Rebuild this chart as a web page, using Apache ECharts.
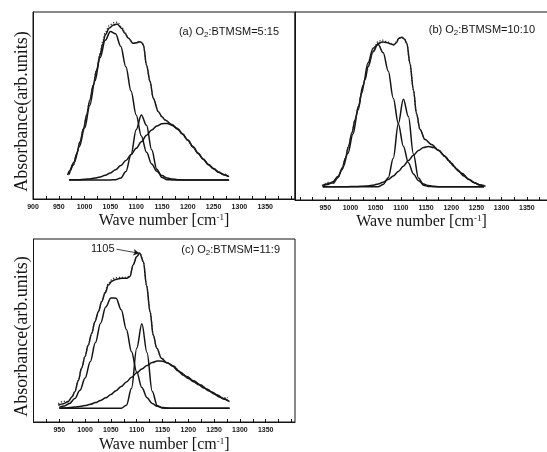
<!DOCTYPE html>
<html>
<head>
<meta charset="utf-8">
<script src="https://cdn.jsdelivr.net/npm/echarts@6/dist/echarts.min.js"></script>
<style>
  html, body { margin: 0; padding: 0; background: #fff; }
  #chart { width: 547px; height: 452px; }
</style>
</head>
<body>
<div id="chart"></div>
<script>
// ---------- Panel (a): O2:BTMSM = 5:15 ----------
const waveA = [970, 980, 990, 1000, 1010, 1020, 1030, 1040, 1050, 1060, 1070, 1080, 1090, 1100, 1110, 1120,
  1130, 1140, 1150, 1160, 1170, 1180, 1190, 1200, 1210, 1220, 1230, 1240, 1250, 1260, 1270, 1280];
const peak1A = [0.035, 0.115, 0.215, 0.333, 0.477, 0.635, 0.783, 0.896, 0.952, 0.938, 0.857, 0.726, 0.571, 0.417,
  0.282, 0.177, 0.103, 0.056, 0.028, 0.013, 0.006, 0.002, 0, 0, 0, 0, 0, 0, 0, 0, 0, 0];
const peak2A = [0, 0, 0, 0, 0, 0, 0, 0, 0, 0.002, 0.012, 0.054, 0.163, 0.322, 0.416, 0.351, 0.193, 0.069, 0.016,
  0.002, 0, 0, 0, 0, 0, 0, 0, 0, 0, 0, 0, 0];
const peak3A = [0.001, 0.001, 0.002, 0.004, 0.007, 0.012, 0.019, 0.030, 0.045, 0.066, 0.092, 0.125, 0.162, 0.203,
  0.245, 0.286, 0.320, 0.346, 0.361, 0.362, 0.350, 0.326, 0.293, 0.254, 0.212, 0.170, 0.132, 0.098, 0.071, 0.049,
  0.033, 0.021];
const fitWaveA = [967, 972, 978, 985, 991, 998, 1004, 1010, 1017, 1023, 1030, 1035, 1040, 1048, 1056, 1063, 1072,
  1078, 1085, 1094, 1101, 1107, 1111, 1114, 1120, 1127, 1133, 1143, 1150, 1156, 1169, 1180, 1190, 1200, 1210, 1220,
  1230, 1240, 1250, 1260, 1270, 1278];
const fitA = [0.032, 0.06, 0.096, 0.17, 0.245, 0.33, 0.417, 0.51, 0.609, 0.70, 0.801, 0.87, 0.929, 0.975, 0.994, 1.0,
  0.972, 0.94, 0.908, 0.876, 0.88, 0.886, 0.88, 0.865, 0.737, 0.63, 0.524, 0.438, 0.405, 0.385, 0.355, 0.33, 0.295,
  0.256, 0.214, 0.172, 0.134, 0.10, 0.073, 0.05, 0.034, 0.024];
const measuredA = [0.032, 0.06, 0.096, 0.17, 0.245, 0.33, 0.417, 0.51, 0.612, 0.705, 0.81, 0.885, 0.945, 0.99, 1.008,
  1.012, 0.982, 0.945, 0.91, 0.876, 0.882, 0.888, 0.882, 0.865, 0.737, 0.63, 0.524, 0.438, 0.405, 0.385, 0.355, 0.33,
  0.295, 0.256, 0.214, 0.172, 0.134, 0.10, 0.073, 0.05, 0.036, 0.04];
const ratioA = '5:15';

// ---------- Panel (b): O2:BTMSM = 10:10 ----------
const waveB = [945, 955, 965, 975, 985, 995, 1005, 1015, 1025, 1035, 1045, 1055, 1065, 1075, 1085, 1095, 1105, 1115,
  1125, 1135, 1145, 1155, 1165, 1175, 1185, 1195, 1205, 1215, 1225, 1235, 1245, 1255, 1265];
const peak1B = [0.006, 0.015, 0.033, 0.068, 0.129, 0.222, 0.351, 0.509, 0.677, 0.826, 0.924, 0.948, 0.893, 0.771,
  0.59, 0.42, 0.27, 0.16, 0.085, 0.04, 0.017, 0.007, 0.002, 0, 0, 0, 0, 0, 0, 0, 0, 0, 0];
const peak2B = [0, 0, 0, 0, 0, 0, 0, 0, 0, 0, 0, 0, 0.015, 0.06, 0.19, 0.42, 0.583, 0.468, 0.217, 0.058, 0.009, 0.001,
  0, 0, 0, 0, 0, 0, 0, 0, 0, 0, 0];
const peak3B = [0, 0, 0, 0, 0, 0, 0.001, 0.001, 0.003, 0.005, 0.010, 0.018, 0.030, 0.047, 0.071, 0.101, 0.136, 0.174,
  0.210, 0.241, 0.261, 0.268, 0.261, 0.241, 0.210, 0.174, 0.136, 0.101, 0.071, 0.047, 0.027, 0.012, 0.004];
const fitWaveB = [944, 950, 958, 966, 975, 983, 990, 996, 1003, 1009, 1016, 1022, 1029, 1035, 1045, 1055, 1063, 1072,
  1080, 1086, 1091, 1096, 1102, 1107, 1112, 1118, 1125, 1131, 1138, 1148, 1161, 1175, 1188, 1200, 1210, 1221, 1235,
  1247, 1258, 1268];
const fitB = [0.005, 0.015, 0.022, 0.025, 0.06, 0.111, 0.19, 0.267, 0.36, 0.445, 0.535, 0.623, 0.715, 0.8, 0.9, 0.955,
  0.965, 0.962, 0.952, 0.945, 0.96, 0.99, 0.996, 0.985, 0.956, 0.823, 0.645, 0.489, 0.382, 0.315, 0.281, 0.243, 0.2,
  0.158, 0.12, 0.089, 0.05, 0.025, 0.01, 0.003];
const measuredB = [0.008, 0.022, 0.03, 0.022, 0.06, 0.111, 0.19, 0.267, 0.36, 0.445, 0.535, 0.623, 0.715, 0.805, 0.91,
  0.968, 0.978, 0.968, 0.955, 0.95, 0.965, 0.99, 0.998, 0.985, 0.956, 0.823, 0.645, 0.489, 0.382, 0.315, 0.281, 0.243,
  0.2, 0.158, 0.12, 0.089, 0.05, 0.025, 0.012, 0.006];
const ratioB = '10:10';

// ---------- Panel (c): O2:BTMSM = 11:9 ----------
const waveC = [950, 960, 970, 980, 990, 1000, 1010, 1020, 1030, 1040, 1050, 1060, 1070, 1080, 1090, 1100, 1110, 1120,
  1130, 1140, 1150, 1160, 1170, 1180, 1190, 1200, 1210, 1220, 1230, 1240, 1250, 1260, 1270, 1280];
const peak1C = [0.006, 0.015, 0.032, 0.063, 0.116, 0.195, 0.300, 0.424, 0.549, 0.653, 0.712, 0.710, 0.635, 0.509,
  0.365, 0.234, 0.134, 0.069, 0.032, 0.013, 0.005, 0.002, 0, 0, 0, 0, 0, 0, 0, 0, 0, 0, 0, 0];
const peak2C = [0, 0, 0, 0, 0, 0, 0, 0, 0, 0, 0, 0, 0.001, 0.020, 0.129, 0.387, 0.545, 0.359, 0.111, 0.016, 0.002,
  0, 0, 0, 0, 0, 0, 0, 0, 0, 0, 0, 0, 0];
const peak3C = [0.002, 0.003, 0.005, 0.008, 0.012, 0.018, 0.026, 0.037, 0.051, 0.068, 0.089, 0.114, 0.141, 0.170,
  0.200, 0.229, 0.254, 0.276, 0.295, 0.306, 0.304, 0.293, 0.272, 0.242, 0.214, 0.193, 0.172, 0.152, 0.132, 0.112,
  0.093, 0.074, 0.058, 0.044];
const fitWaveC = [948, 958, 967, 975, 980, 987, 993, 1000, 1006, 1013, 1019, 1026, 1032, 1039, 1045, 1052, 1058, 1065,
  1071, 1081, 1087, 1093, 1100, 1106, 1113, 1119, 1126, 1132, 1139, 1148, 1158, 1170, 1184, 1197, 1210, 1224, 1236,
  1246, 1255, 1268, 1277];
const fitC = [0.02, 0.03, 0.043, 0.075, 0.107, 0.18, 0.258, 0.335, 0.408, 0.485, 0.559, 0.625, 0.688, 0.745, 0.795,
  0.82, 0.83, 0.835, 0.839, 0.839, 0.85, 0.925, 0.978, 1.0, 0.946, 0.795, 0.623, 0.473, 0.387, 0.323, 0.295, 0.275,
  0.235, 0.205, 0.178, 0.15, 0.125, 0.105, 0.088, 0.063, 0.048];
const measuredC = [0.03, 0.045, 0.045, 0.075, 0.107, 0.18, 0.258, 0.335, 0.408, 0.485, 0.559, 0.625, 0.69, 0.75, 0.805,
  0.83, 0.842, 0.845, 0.845, 0.845, 0.855, 0.925, 0.98, 1.003, 0.946, 0.795, 0.623, 0.473, 0.387, 0.323, 0.295, 0.275,
  0.235, 0.205, 0.178, 0.15, 0.125, 0.105, 0.088, 0.068, 0.07];
const ratioC = '11:9';
const peakMarkWave = 1105;   // annotated Si-O-Si band position in (c)
const peakMarkValue = 1.0;
const arrowTail = [1061, 1.026];

// ---------- Axis ticks and labels ----------
const ticksA = [900, 925, 950, 975, 1000, 1025, 1050, 1075, 1100, 1125, 1150, 1175, 1200, 1225, 1250, 1275, 1300,
  1325, 1350, 1375, 1400];
const labelsA = [900, 950, 1000, 1050, 1100, 1150, 1200, 1250, 1300, 1350];
const ticksB = [900, 925, 950, 975, 1000, 1025, 1050, 1075, 1100, 1125, 1150, 1175, 1200, 1225, 1250, 1275, 1300,
  1325, 1350, 1375];
const labelsB = [950, 1000, 1050, 1100, 1150, 1200, 1250, 1300, 1350];
const ticksC = [925, 950, 975, 1000, 1025, 1050, 1075, 1100, 1125, 1150, 1175, 1200, 1225, 1250, 1275, 1300, 1325,
  1350, 1375, 1400];
const labelsC = [950, 1000, 1050, 1100, 1150, 1200, 1250, 1300, 1350];

const INK = '#141414';
const SERIF = '"Liberation Serif", "DejaVu Serif", serif';
const SANS = '"Liberation Sans", Arial, sans-serif';

function pairs(xs, ys) { return xs.map((x, i) => [x, ys[i]]); }

function xAxisFor(gridIndex, min, max, ticks, labels, gap) {
  return {
    type: 'value', gridIndex, min, max,
    axisLine: { show: true, onZero: false, lineStyle: { color: INK, width: 1 } },
    axisTick: { show: true, inside: true, length: 3, customValues: ticks, lineStyle: { color: INK, width: 1 } },
    axisLabel: {
      customValues: labels, formatter: v => String(v),
      fontSize: 7, fontWeight: 'bold', fontFamily: SANS, color: INK, margin: 5
    },
    splitLine: { show: false },
    name: '{t|Wave number [cm}{s|-1}{t|]}',
    nameLocation: 'middle', nameGap: gap,
    nameTextStyle: {
      rich: {
        t: { fontFamily: SERIF, fontSize: 16, color: INK },
        s: { fontFamily: SERIF, fontSize: 9, color: INK, verticalAlign: 'top' }
      }
    }
  };
}

function yAxisFor(gridIndex, min, max, withName) {
  return {
    type: 'value', gridIndex, min, max,
    axisLine: { show: true, onZero: false, lineStyle: { color: INK, width: 1 } },
    axisTick: { show: false }, axisLabel: { show: false }, splitLine: { show: false },
    name: withName ? 'Absorbance(arb.units)' : '',
    nameLocation: 'middle', nameRotate: 90, nameGap: 2,
    nameTextStyle: { fontFamily: SERIF, fontSize: 18, color: INK, padding: [0, 12, 0, 0] }
  };
}

function curve(xs, ys, gi, dotted, extra) {
  return Object.assign({
    type: 'line', xAxisIndex: gi, yAxisIndex: gi,
    data: pairs(xs, ys), showSymbol: false, smooth: 0.35, smoothMonotone: 'x',
    silent: true, animation: false, z: dotted ? 3 : 2,
    lineStyle: dotted
      ? { color: '#2a2a2a', width: 1.3, type: [1.2, 1.8] }
      : { color: INK, width: 1.5 }
  }, extra || {});
}

function panelLabel(tag, ratio) {
  return '{t|(' + tag + ') O}{b|2}{t|:BTMSM=' + ratio + '}';
}
const labelRich = {
  t: { fontFamily: SANS, fontSize: 11, fontWeight: 'normal', color: INK, lineHeight: 15 },
  b: { fontFamily: SANS, fontSize: 8, fontWeight: 'normal', color: INK, verticalAlign: 'bottom', lineHeight: 15 }
};

const gridBase = { show: true, borderColor: INK, borderWidth: 1, backgroundColor: 'transparent', outerBoundsMode: 'none', containLabel: false };

const option = {
  backgroundColor: '#ffffff',
  animation: false,
  title: [
    { text: panelLabel('a', ratioA), right: 263, top: 19, textStyle: { fontWeight: 'normal', rich: labelRich } },
    { text: panelLabel('b', ratioB), right: 7, top: 17, textStyle: { fontWeight: 'normal', rich: labelRich } },
    { text: panelLabel('c', ratioC), right: 262, top: 237, textStyle: { fontWeight: 'normal', rich: labelRich } }
  ],
  grid: [
    Object.assign({ left: 33, top: 12, width: 262, height: 187 }, gridBase),
    Object.assign({ left: 295, top: 12, width: 253, height: 188 }, gridBase),
    Object.assign({ left: 33.5, top: 239, width: 261.5, height: 183 }, gridBase)
  ],
  xAxis: [
    xAxisFor(0, 900, 1407.8, ticksA, labelsA, 14),
    xAxisFor(1, 890, 1392, ticksB, labelsB, 14),
    xAxisFor(2, 900, 1406.8, ticksC, labelsC, 15)
  ],
  yAxis: [
    yAxisFor(0, -0.122, 1.077, true),
    yAxisFor(1, -0.089, 1.165, false),
    yAxisFor(2, -0.088, 1.092, true)
  ],
  series: [
    curve(waveA, peak1A, 0, false), curve(waveA, peak2A, 0, false), curve(waveA, peak3A, 0, false),
    curve(fitWaveA, fitA, 0, false), curve(fitWaveA, measuredA, 0, true),

    curve(waveB, peak1B, 1, false), curve(waveB, peak2B, 1, false), curve(waveB, peak3B, 1, false),
    curve(fitWaveB, fitB, 1, false), curve(fitWaveB, measuredB, 1, true),

    curve(waveC, peak1C, 2, false), curve(waveC, peak2C, 2, false), curve(waveC, peak3C, 2, false),
    curve(fitWaveC, measuredC, 2, true),
    curve(fitWaveC, fitC, 2, false, {
      markLine: {
        silent: true, animation: false,
        symbol: ['none', 'arrow'], symbolSize: [5, 6],
        lineStyle: { color: INK, width: 0.8, type: 'solid' },
        label: {
          show: true, position: 'start', formatter: String(peakMarkWave),
          fontFamily: SANS, fontSize: 11, color: INK, distance: 2
        },
        data: [[{ coord: arrowTail }, { coord: [peakMarkWave, peakMarkValue] }]]
      }
    })
  ]
};

const chart = echarts.init(document.getElementById('chart'), null, { renderer: 'canvas' });
chart.setOption(option);
</script>
</body>
</html>
